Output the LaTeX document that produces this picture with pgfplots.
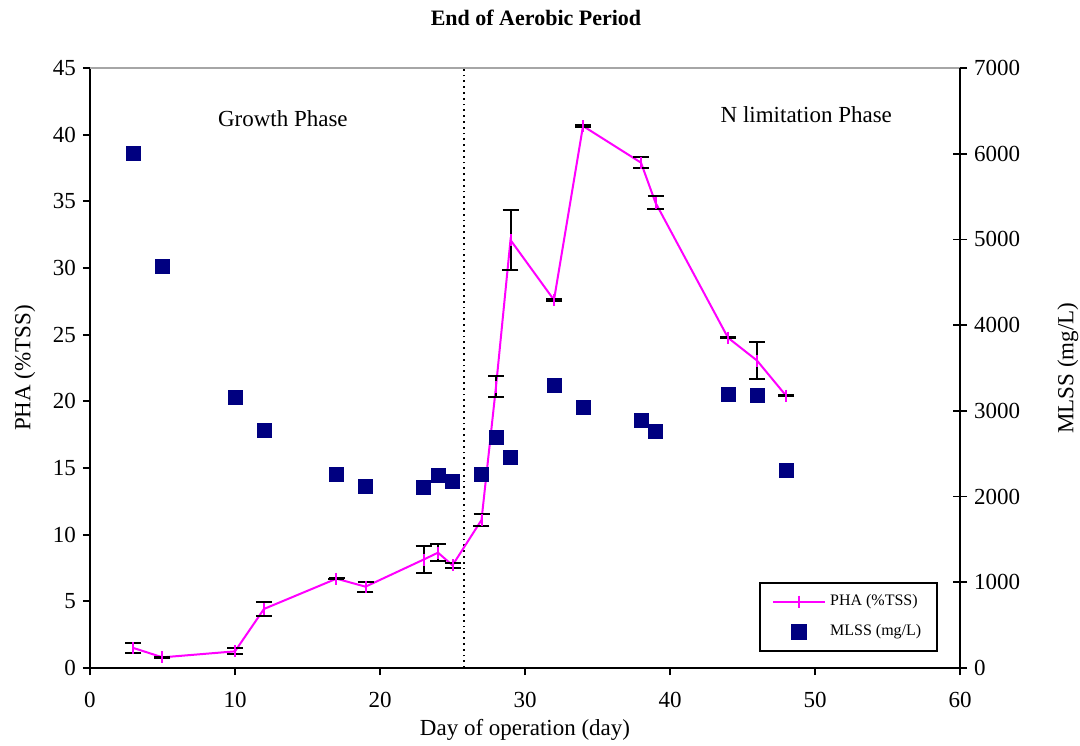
\documentclass[border=0pt]{standalone}
\usepackage{fontspec}
\setmainfont{Liberation Serif}
\usepackage{pgfplots}
\pgfplotsset{compat=1.18}
\definecolor{phapink}{RGB}{255,0,255}
\definecolor{mlssblue}{RGB}{0,0,128}

\begin{document}
\begin{tikzpicture}
\pgfplotsset{
  every axis/.append style={
    width=435pt, height=300pt, scale only axis,
    at={(0,0)}, anchor=south west,
    xmin=0, xmax=60,
    font=\fontsize{11.5}{13}\selectfont,
    /pgf/number format/assume math mode=true,
    /pgf/number format/1000 sep={},
    axis line style={black, line width=0.9pt},
    every tick/.style={black, line width=0.9pt},
  },
}
% left axis: PHA
\begin{axis}[
  axis x line*=bottom, axis y line*=left,
  ymin=0, ymax=45,
  xtick={0,10,...,60}, ytick={0,5,...,45},
  tick align=outside, major tick length=3.5pt,
  y tick label style={font=\fontsize{11.5}{13}\selectfont},
  x tick label style={font=\fontsize{11.5}{13}\selectfont, anchor=north, yshift=-5pt},
  xlabel={Day of operation (day)},
  ylabel={PHA (\%TSS)},
  x label style={at={(axis description cs:0.5,-0.103)}, anchor=center},
  y label style={at={(axis description cs:-0.075,0.5)}, anchor=center},
]
\addplot[black, dotted, line width=0.9pt, forget plot] coordinates {(25.8,0) (25.8,45)};
\addplot[phapink, line width=1pt, mark=|, mark size=3pt,
  mark options={phapink, line width=1pt},
  error bars/.cd, y dir=both, y explicit,
  error bar style={black, line width=1pt},
  error mark options={black, rotate=90, mark size=4pt, line width=1pt}]
coordinates {
  (3,1.5) +- (0,0.4)
  (5,0.8) +- (0,0.05)
  (10,1.25) +- (0,0.23)
  (12,4.43) +- (0,0.53)
  (17,6.7) +- (0,0.05)
  (19,6.1) +- (0,0.38)
  (23,8.13) +- (0,1.03)
  (24,8.65) +- (0,0.65)
  (25,7.7) +- (0,0.2)
  (27,11.1) +- (0,0.45)
  (28,21.1) +- (0,0.8)
  (29,32.1) +- (0,2.25)
  (32,27.6) +- (0,0.05)
  (34,40.65) +- (0,0.05)
  (38,37.9) +- (0,0.4)
  (39,34.9) +- (0,0.5)
  (44,24.77) +- (0,0.05)
  (46,23.06) +- (0,1.41)
  (48,20.43) +- (0,0.05)
};
\node[font=\fontsize{11.5}{13}\selectfont] at (axis cs:13.3,41.2) {Growth Phase};
\node[font=\fontsize{11.5}{13}\selectfont] at (axis cs:49.4,41.5) {N limitation Phase};
\end{axis}

% right axis: MLSS
\begin{axis}[
  axis x line*=top, axis y line*=right,
  x axis line style={gray!70, line width=0.9pt},
  xtick=\empty,
  ymin=0, ymax=7000,
  ytick={0,1000,...,7000},
  y tick label style={font=\fontsize{11.5}{13}\selectfont},
  tick align=center, major tick length=7pt,
  ylabel={MLSS (mg/L)},
  y label style={at={(axis description cs:1.124,0.5)}, anchor=center},
  legend style={at={(axis description cs:0.975,0.027)}, anchor=south east,
    draw=black, line width=1pt, font=\fontsize{8}{9.5}\selectfont,
    inner xsep=6pt, inner ysep=4pt, row sep=4pt, cells={anchor=west}},
  legend image code/.code={%
    \draw[mark repeat=2,mark phase=2,#1]
      plot coordinates {(0pt,0pt) (13pt,0pt) (26pt,0pt)};},
]
\addlegendimage{phapink, line width=1pt, mark=|, mark size=3pt,
  mark options={phapink, line width=1pt}}
\addlegendentry{PHA (\%TSS)}
\addplot[only marks, mark=square*, mark size=3.5pt, mlssblue,
  mark options={fill=mlssblue, draw=mlssblue}]
coordinates {
  (3,6000) (5,4690) (10,3154) (12,2777) (17,2263) (19,2123)
  (23,2104) (24,2244) (25,2174) (27,2263) (28,2687) (29,2454)
  (32,3294) (34,3037) (38,2893) (39,2757) (44,3197) (46,3177)
  (48,2310)
};
\addlegendentry{MLSS (mg/L)}
\end{axis}
\node[font=\bfseries\fontsize{11}{13}\selectfont, anchor=center]
  at (223pt,325pt) {End of Aerobic Period};
\pgfresetboundingbox
\path[use as bounding box] (-45pt,-38.5pt) rectangle (495pt,334pt);
\end{tikzpicture}
\end{document}
